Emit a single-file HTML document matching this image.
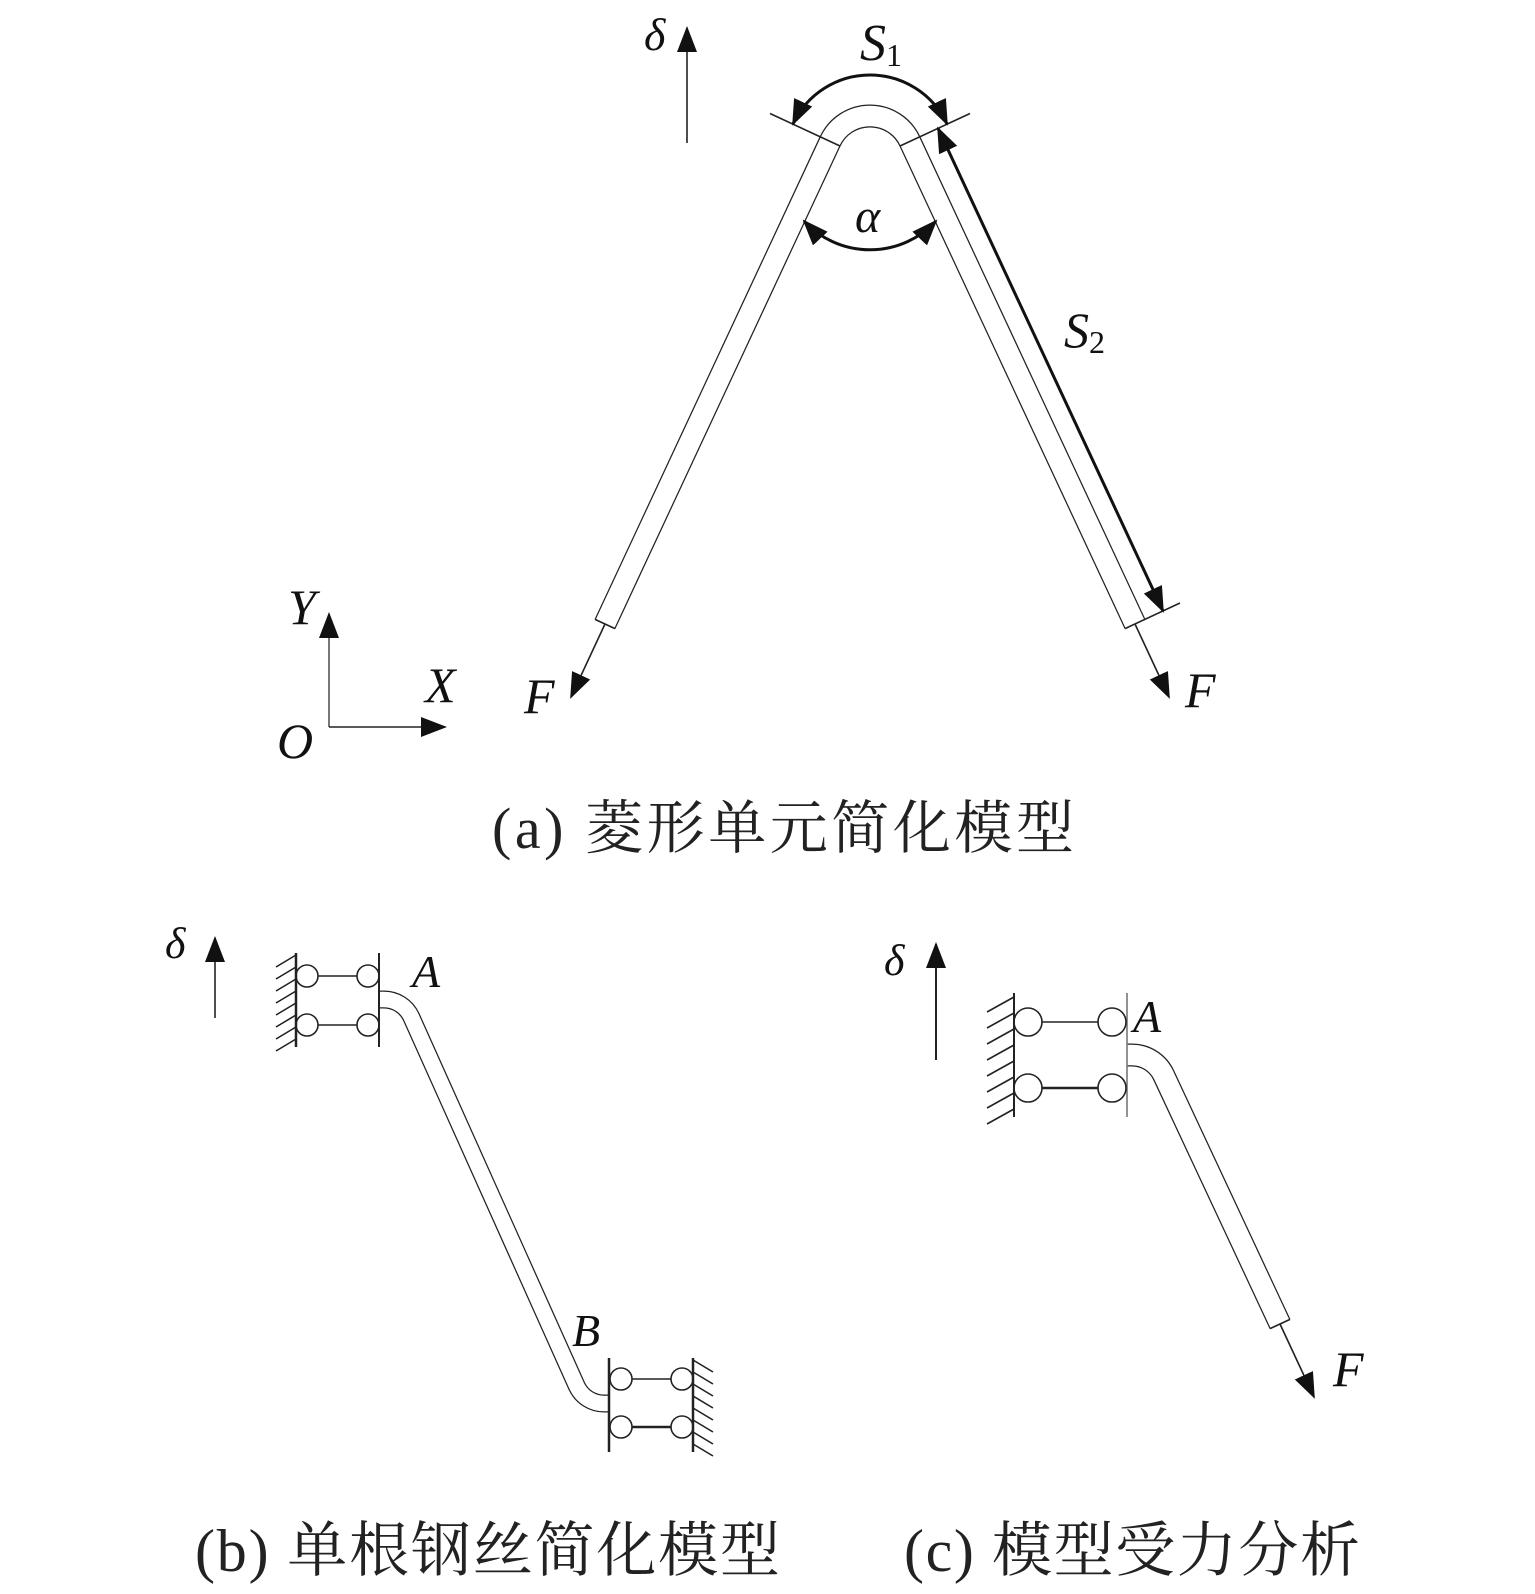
<!DOCTYPE html>
<html><head><meta charset="utf-8"><style>
html,body{margin:0;padding:0;background:#fff;}
svg{display:block;}
.it{font-family:"Liberation Serif","Times New Roman",serif;font-style:italic;fill:#111;}
.cap{font-family:"Liberation Serif","Noto Serif CJK SC","Noto Serif CJK JP",serif;fill:#222;}
</style></head><body>
<svg width="1535" height="1594" viewBox="0 0 1535 1594" xmlns="http://www.w3.org/2000/svg">
<defs>
<marker id="ah" markerUnits="userSpaceOnUse" markerWidth="28" markerHeight="22" refX="24" refY="10" orient="auto-start-reverse" viewBox="0 0 28 20">
<path d="M0,0 L26,10 L0,20 Z" fill="#111"/></marker>
</defs>
<g fill="none" stroke="#222" stroke-width="1.6">
<path d="M605,624 L830.1,141.4 A44 44 0 0 1 909.9,141.4 L1135,624" stroke-width="23"/>
<path d="M605,624 L830.1,141.4 A44 44 0 0 1 909.9,141.4 L1135,624" stroke="#fff" stroke-width="20.5"/>
<line x1="595" y1="619.4" x2="615" y2="628.6"/>
<line x1="1125" y1="628.6" x2="1180" y2="603"/>
<line x1="605" y1="624" x2="571" y2="697" marker-end="url(#ah)"/>
<line x1="1135" y1="624" x2="1169" y2="697" marker-end="url(#ah)"/>
<line x1="840" y1="146" x2="770" y2="113.5"/>
<line x1="900" y1="146" x2="970" y2="113.5"/>
<path d="M793,124 A85 85 0 0 1 947,124" stroke-width="3" stroke="#111" marker-start="url(#ah)" marker-end="url(#ah)"/>
<path d="M804,221 A90 90 0 0 0 936,221" stroke-width="3" stroke="#111" marker-start="url(#ah)" marker-end="url(#ah)"/>
<line x1="938" y1="128.3" x2="1163" y2="611" stroke-width="3" stroke="#111" marker-start="url(#ah)" marker-end="url(#ah)"/>
<line x1="687" y1="143" x2="687" y2="28" stroke-width="1.6" marker-end="url(#ah)"/>
<line x1="329" y1="727" x2="329" y2="614" marker-end="url(#ah)" stroke="#555"/>
<line x1="329" y1="727" x2="445" y2="727" marker-end="url(#ah)"/>
<line x1="215" y1="1018" x2="215" y2="938" marker-end="url(#ah)"/>
<path d="M379,999.5 h5 a30 30 0 0 1 27.2,17.3 L576.8,1386.2 a30 30 0 0 0 27.2,17.3 h5" stroke-width="18"/>
<path d="M379,999.5 h5 a30 30 0 0 1 27.2,17.3 L576.8,1386.2 a30 30 0 0 0 27.2,17.3 h5" stroke="#fff" stroke-width="15.5"/>
<line x1="296" y1="953" x2="296" y2="1047" stroke-width="2.5"/>
<line x1="379" y1="953" x2="379" y2="1047" stroke-width="2"/>
<g stroke-width="1.6">
<line x1="276" y1="967" x2="296" y2="955"/><line x1="276" y1="979" x2="296" y2="967"/>
<line x1="276" y1="991" x2="296" y2="979"/><line x1="276" y1="1003" x2="296" y2="991"/>
<line x1="276" y1="1015" x2="296" y2="1003"/><line x1="276" y1="1027" x2="296" y2="1015"/>
<line x1="276" y1="1039" x2="296" y2="1027"/><line x1="276" y1="1051" x2="296" y2="1039"/>
</g>
<circle cx="307" cy="976" r="11"/><circle cx="307" cy="1025" r="11"/>
<circle cx="368" cy="976" r="11"/><circle cx="368" cy="1025" r="11"/>
<line x1="318" y1="976" x2="357" y2="976"/><line x1="318" y1="1025" x2="357" y2="1025"/>
<line x1="609" y1="1358" x2="609" y2="1452" stroke-width="2.5"/>
<line x1="693" y1="1358" x2="693" y2="1452" stroke-width="2.5"/>
<g stroke-width="1.6">
<line x1="693" y1="1360" x2="713" y2="1372"/><line x1="693" y1="1372" x2="713" y2="1384"/>
<line x1="693" y1="1384" x2="713" y2="1396"/><line x1="693" y1="1396" x2="713" y2="1408"/>
<line x1="693" y1="1408" x2="713" y2="1420"/><line x1="693" y1="1420" x2="713" y2="1432"/>
<line x1="693" y1="1432" x2="713" y2="1444"/><line x1="693" y1="1444" x2="713" y2="1456"/>
</g>
<circle cx="621" cy="1379" r="11"/><circle cx="621" cy="1427" r="11"/>
<circle cx="682" cy="1379" r="11"/><circle cx="682" cy="1427" r="11"/>
<line x1="632" y1="1379" x2="671" y2="1379"/><line x1="632" y1="1427" x2="671" y2="1427" stroke-width="2.5"/>
<line x1="936" y1="1060" x2="936" y2="944" marker-end="url(#ah)" stroke-width="2"/>
<path d="M1127,1055 h5 a35 35 0 0 1 31.7,20.2 L1280,1324" stroke-width="23"/>
<path d="M1127,1055 h5 a35 35 0 0 1 31.7,20.2 L1280,1324" stroke="#fff" stroke-width="20.5"/>
<line x1="1270" y1="1328.6" x2="1290" y2="1319.4"/>
<line x1="1280" y1="1324" x2="1314" y2="1397" marker-end="url(#ah)"/>
<line x1="1014" y1="993" x2="1014" y2="1117" stroke-width="2"/>
<line x1="1127" y1="993" x2="1127" y2="1117" stroke="#777"/>
<g stroke-width="1.6">
<line x1="987" y1="1012" x2="1014" y2="997"/><line x1="987" y1="1028" x2="1014" y2="1013"/>
<line x1="987" y1="1044" x2="1014" y2="1029"/><line x1="987" y1="1060" x2="1014" y2="1045"/>
<line x1="987" y1="1076" x2="1014" y2="1061"/><line x1="987" y1="1092" x2="1014" y2="1077"/>
<line x1="987" y1="1108" x2="1014" y2="1093"/><line x1="987" y1="1124" x2="1014" y2="1109"/>
</g>
<circle cx="1028" cy="1022" r="14"/><circle cx="1028" cy="1088" r="14"/>
<circle cx="1112" cy="1022" r="14"/><circle cx="1112" cy="1088" r="14"/>
<line x1="1042" y1="1022" x2="1098" y2="1022"/><line x1="1042" y1="1088" x2="1098" y2="1088" stroke-width="2.5"/>
</g>
<text class="it" x="644" y="50" font-size="46" font-style="normal">δ</text>
<text class="it" x="860" y="60" font-size="52">S<tspan font-size="32" font-style="normal" dy="6">1</tspan></text>
<text class="it" x="855" y="232" font-size="48">α</text>
<text class="it" x="1064" y="347" font-size="50">S<tspan font-size="32" font-style="normal" dy="6">2</tspan></text>
<text class="it" x="288" y="624" font-size="50">Y</text>
<text class="it" x="425" y="702" font-size="50">X</text>
<text class="it" x="277" y="758" font-size="50">O</text>
<text class="it" x="524" y="713" font-size="50">F</text>
<text class="it" x="1185" y="707" font-size="50">F</text>
<text class="it" x="165" y="958" font-size="44" font-style="normal">δ</text>
<text class="it" x="412" y="987" font-size="46">A</text>
<text class="it" x="572" y="1346" font-size="46">B</text>
<text class="it" x="884" y="975" font-size="44" font-style="normal">δ</text>
<text class="it" x="1133" y="1032" font-size="46">A</text>
<text class="it" x="1333" y="1386" font-size="50">F</text>
<text class="cap" x="492" y="848" font-size="58" textLength="582" lengthAdjust="spacing">(a) 菱形单元简化模型</text>
<text class="cap" x="195" y="1571" font-size="60" textLength="585" lengthAdjust="spacing">(b) 单根钢丝简化模型</text>
<text class="cap" x="904" y="1571" font-size="60" textLength="456" lengthAdjust="spacing">(c) 模型受力分析</text>
</svg>
</body></html>
